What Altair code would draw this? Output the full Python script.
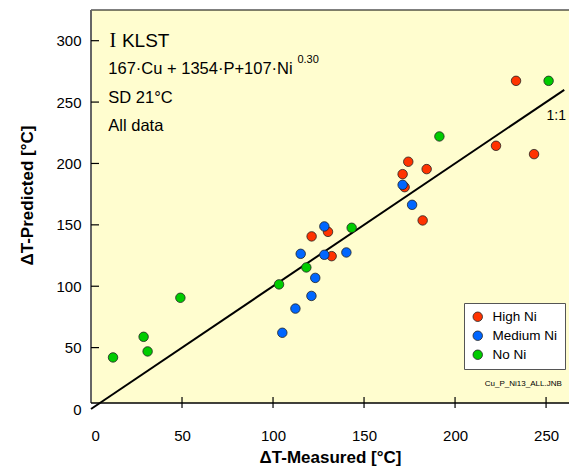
import altair as alt
import pandas as pd

# ---- data ----
high_x = [121.2, 130.2, 132.2, 171.2, 172.3, 174.3, 182.2, 184.4, 222.5, 233.5, 243.4]
high_y = [140.6, 144.3, 124.5, 191.3, 180.7, 201.4, 153.6, 195.4, 214.4, 267.3, 207.6]
med_x = [105.1, 112.3, 115.2, 121.1, 123.2, 128.2, 128.2, 140.3, 171.2, 176.4]
med_y = [62.1, 81.8, 126.4, 92.1, 106.8, 148.7, 125.6, 127.5, 182.6, 166.3]
no_x = [12.1, 28.9, 31.1, 49.1, 103.3, 118.3, 143.2, 191.4, 251.4]
no_y = [42.0, 58.8, 46.9, 90.6, 101.5, 115.3, 147.6, 222.0, 267.3]
groups = ["High Ni", "Medium Ni", "No Ni"]
colors = ["#FF3300", "#0066FF", "#00CC00"]
x_ticks = [0, 50, 100, 150, 200, 250]
y_ticks = [0, 50, 100, 150, 200, 250, 300]
line_x = [0, 260]
line_y = [0, 260]
x_domain = [0, 262.6]
y_domain = [0, 325]

W, H = 478, 399
AXIS_Y = 393  # pixel row of the bottom frame line inside the view
FONT = "Liberation Sans"
YELLOW = "#FFFDCF"

rows = []
for g, xs_, ys_ in [(groups[0], high_x, high_y), (groups[1], med_x, med_y), (groups[2], no_x, no_y)]:
    for a, b in zip(xs_, ys_):
        rows.append({"group": g, "x": a, "y": b, "order": groups.index(g)})
pts = pd.DataFrame(rows)

xs = alt.Scale(domain=x_domain, nice=False, zero=False)
ys = alt.Scale(domain=y_domain, nice=False, zero=False)

x_axis = alt.Axis(
    values=x_ticks, title="ΔT-Measured [°C]", domain=False, ticks=False, tickSize=0,
    grid=False, labelPadding=19, labelFontSize=15, labelFont=FONT, labelColor="#000000",
    titleFont=FONT, titleFontSize=17, titleFontWeight="bold", titleColor="#000000",
    titleY=48, titleBaseline="middle",
)
y_axis = alt.Axis(
    values=y_ticks, title="ΔT-Predicted [°C]", domain=False, ticks=False, tickSize=0,
    grid=False, labelPadding=10, labelFontSize=15, labelFont=FONT, labelColor="#000000",
    titleFont=FONT, titleFontSize=17, titleFontWeight="bold", titleColor="#000000",
    titleX=-64, titleY=185, titleAngle=270, titleAlign="center", titleBaseline="middle",
)


def X(f):
    return alt.X(f, scale=xs, axis=x_axis)


def Y(f):
    return alt.Y(f, scale=ys, axis=y_axis)


one = pd.DataFrame({"k": [0]})

bg = alt.Chart(one).mark_rect(fill=YELLOW).encode(
    x=alt.value(0), x2=alt.value(W), y=alt.value(0), y2=alt.value(AXIS_Y)
)
top_line = alt.Chart(one).mark_rule(color="#000000", strokeWidth=1.2).encode(
    x=alt.value(0), x2=alt.value(W), y=alt.value(0)
)
left_line = alt.Chart(one).mark_rule(color="#666666", strokeWidth=2).encode(
    x=alt.value(0), y=alt.value(0), y2=alt.value(AXIS_Y)
)
bottom_line = alt.Chart(one).mark_rule(color="#000000", strokeWidth=1.5).encode(
    x=alt.value(0), x2=alt.value(W), y=alt.value(AXIS_Y)
)

ytick_df = pd.DataFrame({"y": [v for v in y_ticks if v > 0]})
ytick_marks = alt.Chart(ytick_df).mark_rule(color="#000000", strokeWidth=1.2).encode(
    y=Y("y:Q"), x=alt.value(0), x2=alt.value(8)
)
xtick_df = pd.DataFrame({"x": [v for v in x_ticks if v > 0]})
xtick_marks = alt.Chart(xtick_df).mark_rule(color="#000000", strokeWidth=1.2).encode(
    x=X("x:Q"), y=alt.value(AXIS_Y - 6), y2=alt.value(AXIS_Y + 5)
)

diag = alt.Chart(pd.DataFrame({"x": line_x, "y": line_y})).mark_line(
    color="#000000", strokeWidth=2
).encode(x=X("x:Q"), y=Y("y:Q"))

points = alt.Chart(pts).mark_point(
    filled=True, size=90, stroke="#222222", strokeWidth=0.8, opacity=1
).encode(
    x=X("x:Q"),
    y=Y("y:Q"),
    color=alt.Color(
        "group:N",
        scale=alt.Scale(domain=groups, range=colors),
        sort=groups,
        legend=alt.Legend(
            title=None, orient="none", legendX=373, legendY=293,
            padding=7, fillColor="#FFFFFF", strokeColor="#555555",
            symbolType="circle", symbolSize=90, symbolStrokeColor="#222222",
            symbolStrokeWidth=0.8, labelFont=FONT, labelFontSize=13.5,
            labelColor="#000000", labelOffset=8, rowPadding=4,
        ),
    ),
    order=alt.Order("order:Q"),
)

notes = pd.DataFrame({
    "x": [17.0, 9.5, 9.5, 9.5],
    "y": [299.7, 276.8, 253.2, 230.4],
    "t": ["KLST", "167·Cu + 1354·P+107·Ni", "SD 21°C", "All data"],
    "s": [19, 16.5, 16.5, 16.5],
})
note_text = alt.Chart(notes).mark_text(
    align="left", baseline="middle", font=FONT, color="#000000"
).encode(
    x=X("x:Q"), y=Y("y:Q"),
    text="t:N", size=alt.Size("s:Q", scale=None, legend=None),
)

ibar = alt.Chart(pd.DataFrame({"x": [12.0], "y": [299.7], "t": ["I"]})).mark_text(
    align="center", baseline="middle", font="Liberation Serif", fontSize=20, color="#000000"
).encode(x=X("x:Q"), y=Y("y:Q"), text="t:N")

sup = alt.Chart(pd.DataFrame({"x": [113.4], "y": [284.1], "t": ["0.30"]})).mark_text(
    align="left", baseline="middle", font=FONT, fontSize=11, color="#000000"
).encode(x=X("x:Q"), y=Y("y:Q"), text="t:N")

one_one = alt.Chart(pd.DataFrame({"x": [255.6], "y": [238.5], "t": ["1:1"]})).mark_text(
    align="center", baseline="middle", font=FONT, fontSize=14, color="#000000"
).encode(x=X("x:Q"), y=Y("y:Q"), text="t:N")

fname = alt.Chart(pd.DataFrame({"x": [237.5], "y": [20.3], "t": ["Cu_P_Ni13_ALL.JNB"]})).mark_text(
    align="center", baseline="middle", font=FONT, fontSize=8, color="#000000"
).encode(x=X("x:Q"), y=Y("y:Q"), text="t:N")

chart = alt.layer(
    bg, top_line, left_line, diag, points, bottom_line, ytick_marks, xtick_marks,
    note_text, ibar, sup, one_one, fname,
).properties(
    width=W, height=H,
    autosize=alt.AutoSizeParams(type="none"),
    padding={"left": 83, "top": 2, "right": 0, "bottom": 57},
    background="#FFFFFF",
).configure_view(strokeWidth=0)

chart.save("out.html", embed_options={"renderer": "svg", "actions": False})
